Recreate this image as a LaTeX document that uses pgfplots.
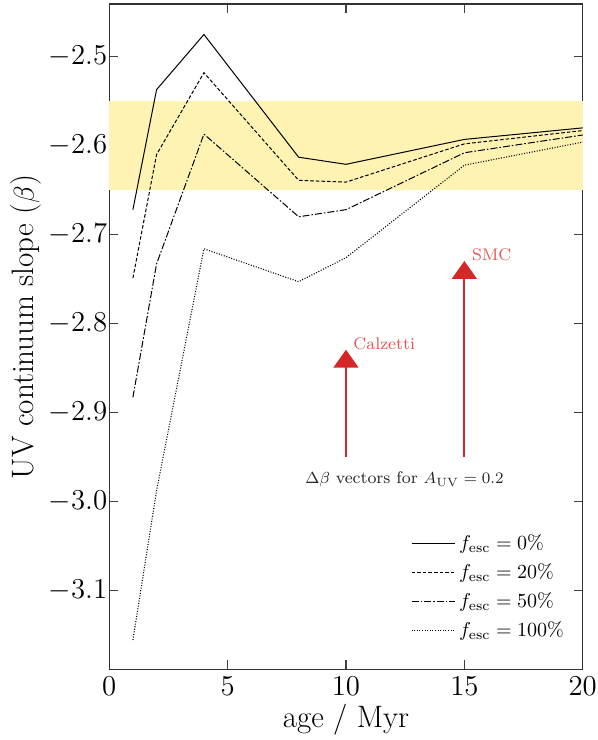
\documentclass[border=0pt]{standalone}
\usepackage{pgfplots}
\pgfplotsset{compat=1.18}
\usetikzlibrary{arrows.meta}

\definecolor{bandyellow}{RGB}{255,243,179}
\definecolor{vecred}{RGB}{214,39,40}
\definecolor{labred}{RGB}{224,84,85}

\begin{document}
\begin{tikzpicture}
\begin{axis}[
  scale only axis,
  width=236.7pt, height=332.6pt,
  xmin=0, xmax=20, ymin=-3.189, ymax=-2.4407,
  xtick={0,5,10,15,20},
  ytick={-3.1,-3.0,-2.9,-2.8,-2.7,-2.6,-2.5},
  yticklabel style={xshift=2.5pt,
    /pgf/number format/.cd, fixed, fixed zerofill, precision=1},
  tick align=inside,
  xtick pos=both, ytick pos=both,
  xticklabel pos=lower, yticklabel pos=left,
  major tick length=4.5pt,
  minor tick num=0,
  tick style={line width=0.6pt, black!75},
  axis line style={line width=0.6pt, black!80},
  tick label style={font=\fontsize{14}{16}\selectfont},
  xlabel={age / Myr},
  ylabel={UV continuum slope ($\beta$)},
  every axis x label/.style={at={(axis description cs:0.5,0)}, anchor=base,
    yshift=-28.8pt, inner sep=0pt, font=\fontsize{15.5}{18}\selectfont},
  every axis y label/.style={at={(axis description cs:-0.142,0.5145)}, rotate=90,
    anchor=south, inner sep=0pt, font=\fontsize{15.5}{18}\selectfont},
  legend style={draw=none, fill=none, at={(0.982,0.032)}, anchor=south east,
    font=\fontsize{10.3}{12}\selectfont, row sep=1.6pt,
    /tikz/every even column/.append style={column sep=2pt}},
  legend cell align=left,
  legend image code/.code={\draw[#1] (0pt,0pt) -- (21.5pt,0pt);},
  clip=true,
]
% observed range of beta
\addplot[draw=none, fill=bandyellow, forget plot]
  coordinates {(0,-2.65) (20,-2.65) (20,-2.55) (0,-2.55)} -- cycle;

% model tracks for different escape fractions
\addplot[black, line width=0.5pt] coordinates {
  (1,-2.672) (2,-2.537) (4,-2.475) (8,-2.613) (10,-2.621) (15,-2.593) (20,-2.580)};
\addlegendentry{$f_{\rm esc} = 0\%$}
\addplot[black, line width=0.5pt, dash pattern=on 1.8pt off 1pt] coordinates {
  (1,-2.749) (2,-2.610) (4,-2.518) (8,-2.639) (10,-2.641) (15,-2.598) (20,-2.583)};
\addlegendentry{$f_{\rm esc} = 20\%$}
\addplot[black, line width=0.5pt, dash pattern=on 3.5pt off 1pt on 0.8pt off 1pt] coordinates {
  (1,-2.883) (2,-2.733) (4,-2.587) (8,-2.680) (10,-2.672) (15,-2.608) (20,-2.588)};
\addlegendentry{$f_{\rm esc} = 50\%$}
\addplot[black, line width=0.55pt, dash pattern=on 0.5pt off 0.8pt] coordinates {
  (1,-3.156) (2,-2.988) (4,-2.716) (8,-2.753) (10,-2.726) (15,-2.622) (20,-2.596)};
\addlegendentry{$f_{\rm esc} = 100\%$}

% reddening vectors
\addplot[vecred, line width=1pt, forget plot,
  -{Triangle[width=12.5pt, length=9pt]}] coordinates {(10,-2.95) (10,-2.8295)};
\addplot[vecred, line width=1pt, forget plot,
  -{Triangle[width=12.5pt, length=9pt]}] coordinates {(15,-2.95) (15,-2.7297)};

\node[labred, anchor=base west, inner sep=0pt, font=\fontsize{8.4}{10}\selectfont]
  at (axis cs:10.3,-2.8295) {Calzetti};
\node[labred, anchor=base west, inner sep=0pt, font=\fontsize{8.4}{10}\selectfont]
  at (axis cs:15.31,-2.7297) {SMC};
\node[black!85, anchor=base, inner sep=0pt, font=\fontsize{8.4}{10}\selectfont]
  at (axis cs:12.47,-2.9804) {$\Delta\beta$ vectors for $A_{\rm UV} = 0.2$};
\end{axis}
\pgfresetboundingbox
\path (current axis.south west) +(-54.6pt,-35.3pt)
      (current axis.north east) +(7.2pt,2pt);
\end{tikzpicture}
\end{document}
